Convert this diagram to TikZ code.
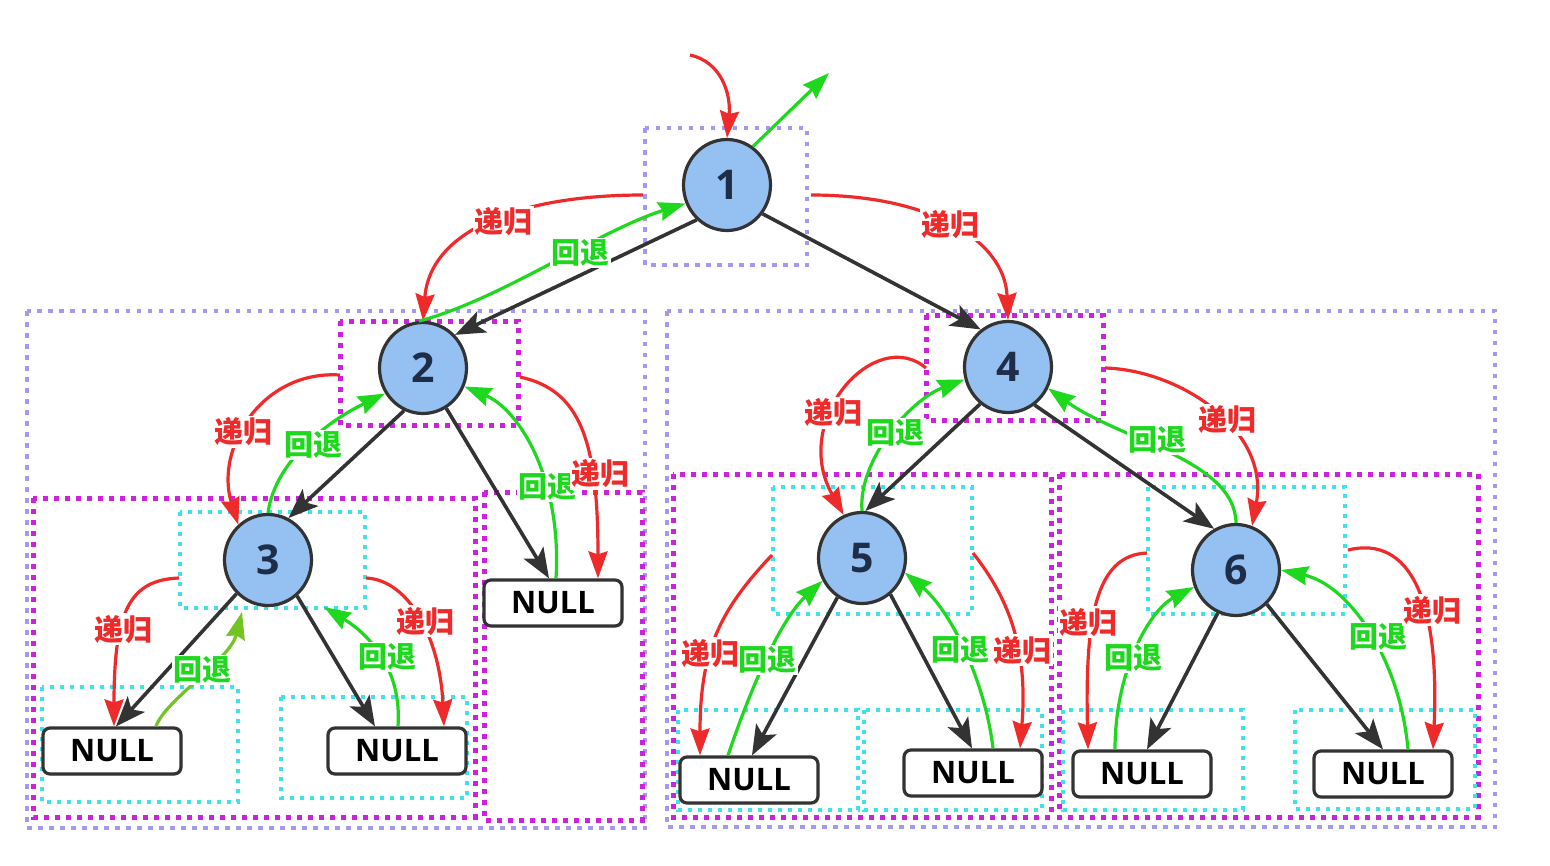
\documentclass[tikz,border=0pt]{standalone}
\usepackage{fontspec}
\setmainfont{Open Sans}
\newfontfamily\cjk{Noto Sans CJK SC}
\usetikzlibrary{arrows.meta,shapes.geometric,calc,shadows}
\definecolor{nodeblue}{HTML}{95C0F2}
\definecolor{edgegray}{HTML}{333333}
\definecolor{recred}{HTML}{EE2A2A}
\definecolor{backgreen}{HTML}{1ED81E}
\definecolor{olivegreen}{HTML}{72C423}
\definecolor{boxpurple}{HTML}{A499F0}
\definecolor{boxmagenta}{HTML}{CC22DD}
\definecolor{boxcyan}{HTML}{3CE3E8}
\definecolor{digitnavy}{HTML}{1E2D48}
\tikzset{
 treenode/.style={ellipse, draw=edgegray, line width=3.2pt, fill=nodeblue, minimum width=87pt, minimum height=91pt, inner sep=0pt, font=\fontsize{41pt}{41pt}\selectfont\bfseries, text=digitnavy},
 nullbox/.style={rectangle, rounded corners=7pt, draw=edgegray, line width=3.2pt, fill=white, minimum width=138pt, minimum height=46pt, inner sep=0pt, font=\fontsize{31pt}{31pt}\selectfont\bfseries, drop shadow={shadow xshift=1.5pt, shadow yshift=-1.5pt, fill=black, opacity=0.15}},
 treeedge/.style={draw=edgegray, line width=3.6pt, -{Stealth[length=30pt,width=23pt,inset=7pt]}},
 recarrow/.style={draw=recred, line width=3.2pt, -{Stealth[length=27pt,width=19pt,inset=3pt]}},
 backarrow/.style={draw=backgreen, line width=3.2pt, -{Stealth[length=27pt,width=19pt,inset=3pt]}},
 reclabel/.style={fill=white, inner sep=1.5pt, text=recred, font=\cjk\bfseries\fontsize{29pt}{29pt}\selectfont},
 backlabel/.style={fill=white, inner sep=1.5pt, text=backgreen, font=\cjk\bfseries\fontsize{29pt}{29pt}\selectfont},
 purplebox/.style={draw=boxpurple, line width=4.5pt, dash pattern=on 4.5pt off 6.5pt},
 magentabox/.style={draw=boxmagenta, line width=5pt, dash pattern=on 5pt off 6pt},
 cyanbox/.style={draw=boxcyan, line width=4pt, dash pattern=on 4pt off 6pt},
}
\begin{document}
\begin{tikzpicture}[x=1pt,y=-1pt]
\fill[white] (0,0) rectangle (1550,865);
\useasboundingbox (0,0) rectangle (1550,865);
% dotted group boxes
\draw[purplebox] (645,128) rectangle (807,265);
\draw[purplebox] (27,311) rectangle (645,828);
\draw[purplebox] (667,311) rectangle (1495,827);
\draw[magentabox] (340,321) rectangle (518,425);
\draw[magentabox] (33,498) rectangle (475,817);
\draw[magentabox] (484,492) rectangle (642,820);
\draw[magentabox] (926,315) rectangle (1103,420);
\draw[magentabox] (673,474) rectangle (1051,817);
\draw[magentabox] (1059,474) rectangle (1478,817);
\draw[cyanbox] (180,512) rectangle (365,608);
\draw[cyanbox] (42,687) rectangle (238,802);
\draw[cyanbox] (281,697) rectangle (467,798);
\draw[cyanbox] (773,487) rectangle (972,614);
\draw[cyanbox] (1148,487) rectangle (1345,614);
\draw[cyanbox] (678,710) rectangle (858,810);
\draw[cyanbox] (864,710) rectangle (1042,810);
\draw[cyanbox] (1063,710) rectangle (1243,810);
\draw[cyanbox] (1295,710) rectangle (1475,809);
% nodes
\node[treenode] (n1) at (727,185) {1};
\node[treenode] (n2) at (423,368) {2};
\node[treenode] (n3) at (268,560) {3};
\node[treenode] (n4) at (1008,367) {4};
\node[treenode] (n5) at (862,558) {5};
\node[treenode] (n6) at (1236,570) {6};
\node[nullbox] (N3L) at (112,751) {NULL};
\node[nullbox] (N3R) at (397,751) {NULL};
\node[nullbox] (N2R) at (553,603) {NULL};
\node[nullbox] (N5L) at (749,780) {NULL};
\node[nullbox] (N5R) at (973,773) {NULL};
\node[nullbox] (N6L) at (1142,774) {NULL};
\node[nullbox] (N6R) at (1383,774) {NULL};
% tree edges
\draw[treeedge] (n1.229) -- (n2.46);
\draw[treeedge] (n1.321) -- (n4.126);
\draw[treeedge] (n2.246) -- (n3.64);
\draw[treeedge] (n2.300) -- ($(N2R.north)+(-4,0)$);
\draw[treeedge] (n3.227) -- ($(N3L.north)+(4,0)$);
\draw[treeedge] (n3.309) -- ($(N3R.north)+(-22,0)$);
\draw[treeedge] (n4.233) -- (n5.86);
\draw[treeedge] (n4.305) -- (n6.118);
\draw[treeedge] (n5.238) -- ($(N5L.north)+(3,0)$);
\draw[treeedge] (n5.308) -- ($(N5R.north)+(-1,0)$);
\draw[treeedge] (n6.247) -- ($(N6L.north)+(5,0)$);
\draw[treeedge] (n6.312) -- (N6R.north);
% free ends
\coordinate (r0) at (690,55);
\coordinate (g0) at (829,73);
\coordinate (r12) at (643,195);
\coordinate (r14) at (811,195);
\coordinate (r23) at (340,375);
\coordinate (r2n) at (520,377);
\coordinate (r3l) at (179,578);
\coordinate (g3l) at (242,612);
\coordinate (r3r) at (366,578);
\coordinate (g3r) at (324,607);
\coordinate (r45) at (926,368);
\coordinate (r46) at (1105,368);
\coordinate (r5l) at (772,555);
\coordinate (r5r) at (973,553);
\coordinate (r6l) at (1147,553);
\coordinate (r6r) at (1348,550);
% recursion / backtrack arrows
\draw[recarrow] (r0) .. controls (722,62) and (731,95) .. (n1.north);
\draw[backarrow] (n1.56) -- (g0);
\draw[recarrow] (r12) .. controls (520,195) and (430,230) .. (n2.north);
\draw[backarrow] (n2.95) .. controls (500,300) and (600,230) .. (n1.204);
\draw[recarrow] (r14) .. controls (930,195) and (1005,240) .. (n4.north);
\draw[recarrow] (r23) .. controls (260,370) and (215,450) .. (n3.130);
\draw[backarrow] (n3.north) .. controls (275,460) and (330,420) .. (n2.214);
\draw[recarrow] (r2n) .. controls (580,390) and (598,440) .. ($(N2R.north)+(45,0)$);
\draw[backarrow] ($(N2R.north)+(3,0)$) .. controls (562,480) and (520,410) .. (n2.336);
\draw[recarrow] (r3l) .. controls (130,580) and (114,610) .. ($(N3L.north)+(2,0)$);
\draw[backarrow, draw=olivegreen] ($(N3L.north)+(44,0)$) .. controls (165,700) and (230,660) .. (g3l);
\draw[recarrow] (r3r) .. controls (410,580) and (440,640) .. ($(N3R.north)+(47,0)$);
\draw[backarrow] ($(N3R.north)+(1,0)$) .. controls (402,670) and (370,635) .. (g3r);
\draw[recarrow] (r45) .. controls (875,325) and (790,420) .. (n5.113);
\draw[backarrow] (n5.north) .. controls (858,460) and (910,400) .. (n4.196);
\draw[recarrow] (r46) .. controls (1180,370) and (1270,430) .. (n6.70);
\draw[backarrow] (n6.north) .. controls (1235,460) and (1120,440) .. (n4.332);
\draw[recarrow] (r5l) .. controls (720,610) and (700,650) .. ($(N5L.north)+(-49,0)$);
\draw[backarrow] ($(N5L.north)+(-21,0)$) .. controls (750,690) and (780,620) .. (n5.210);
\draw[recarrow] (r5r) .. controls (1010,600) and (1028,650) .. ($(N5R.north)+(47,0)$);
\draw[backarrow] ($(N5R.north)+(20,0)$) .. controls (985,680) and (950,610) .. (n5.341);
\draw[recarrow] (r6l) .. controls (1095,555) and (1085,620) .. ($(N6L.north)+(-54,0)$);
\draw[backarrow] ($(N6L.north)+(-27,0)$) .. controls (1115,670) and (1150,610) .. (n6.202);
\draw[recarrow] (r6r) .. controls (1410,535) and (1440,600) .. ($(N6R.north)+(50,0)$);
\draw[backarrow] ($(N6R.north)+(25,0)$) .. controls (1400,660) and (1350,585) .. (n6.0);
% labels
\node[reclabel] (L1) at (503,222) {递归};
\node[backlabel] (L2) at (580,253) {回退};
\node[reclabel] (L3) at (950,225) {递归};
\node[reclabel] (L4) at (243,432) {递归};
\node[backlabel] (L5) at (313,445) {回退};
\node[backlabel] (L6) at (547,487) {回退};
\node[reclabel] (L7) at (600,474) {递归};
\node[reclabel] (L8) at (123,629) {递归};
\node[backlabel] (L9) at (202,670) {回退};
\node[backlabel] (L10) at (387,657) {回退};
\node[reclabel] (L11) at (425,621) {递归};
\node[reclabel] (L12) at (833,413) {递归};
\node[backlabel] (L13) at (895,433) {回退};
\node[backlabel] (L14) at (1157,440) {回退};
\node[reclabel] (L15) at (1227,420) {递归};
\node[reclabel] (L16) at (710,653) {递归};
\node[backlabel] (L17) at (767,660) {回退};
\node[backlabel] (L18) at (960,650) {回退};
\node[reclabel] (L19) at (1022,650) {递归};
\node[reclabel] (L20) at (1088,622) {递归};
\node[backlabel] (L21) at (1133,658) {回退};
\node[backlabel] (L22) at (1378,637) {回退};
\node[reclabel] (L23) at (1432,610) {递归};
\end{tikzpicture}
\end{document}
